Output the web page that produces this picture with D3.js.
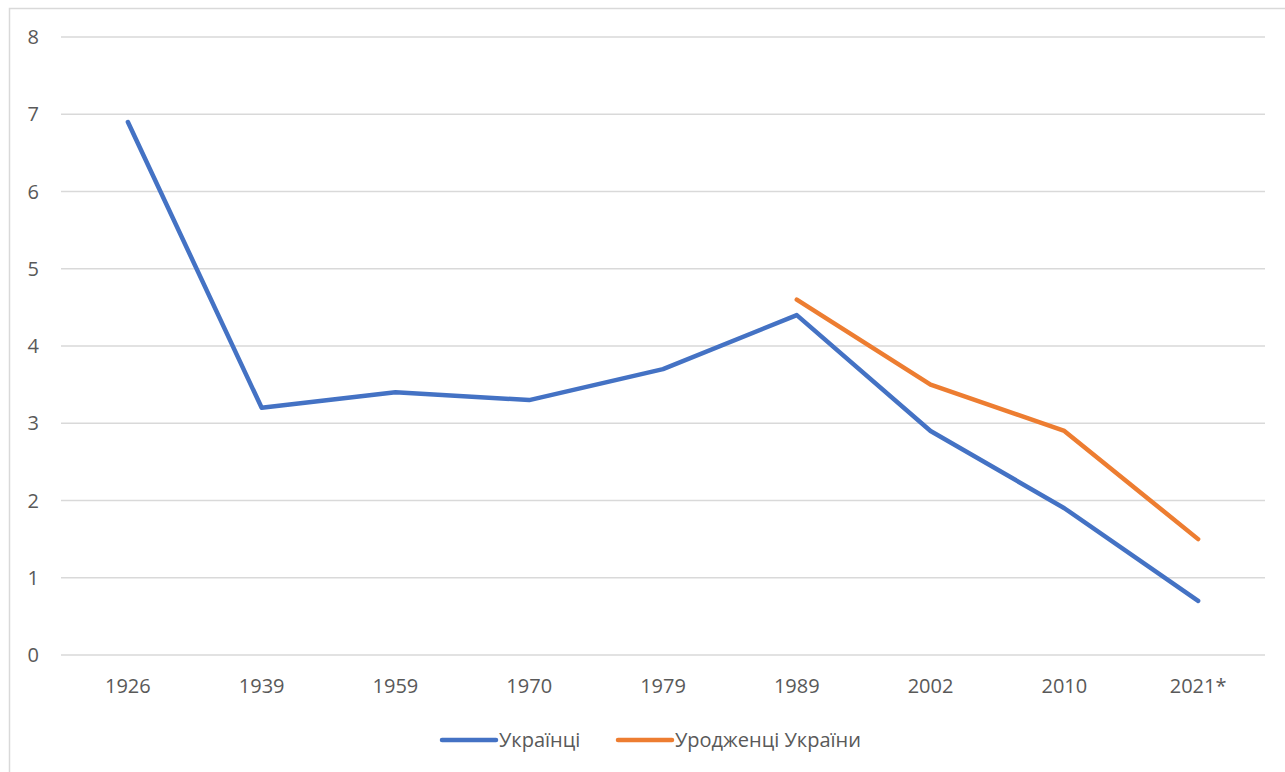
<!DOCTYPE html>
<html lang="uk">
<head>
<meta charset="utf-8">
<title>Українці</title>
<script src="https://cdn.jsdelivr.net/npm/d3@7"></script>
<style>
  body { margin: 0; background: #fff; }
  text { font-family: "Open Sans", "Noto Sans", sans-serif; fill: #595959; }
</style>
</head>
<body>
<div id="chart"></div>
<script>
var years = ["1926", "1939", "1959", "1970", "1979", "1989", "2002", "2010", "2021*"];
var ukrainians = [6.9, 3.2, 3.4, 3.3, 3.7, 4.4, 2.9, 1.9, 0.7];
var natives = [null, null, null, null, null, 4.6, 3.5, 2.9, 1.5];
var yTicks = [0, 1, 2, 3, 4, 5, 6, 7, 8];
var seriesNames = ["Українці", "Уродженці України"];
var colors = ["#4472C4", "#ED7D31"];

var W = 1285, H = 772;
var plot = {left: 61, right: 1265, top: 37, bottom: 655};

var svg = d3.select("#chart").append("svg")
    .attr("width", W).attr("height", H);

// outer frame (right/bottom run off the picture)
svg.append("rect")
    .attr("x", 9.5).attr("y", 8.5)
    .attr("width", 1300).attr("height", 800)
    .attr("fill", "none").attr("stroke", "#d9d9d9").attr("stroke-width", 1.5);

var x = d3.scaleBand().domain(years).range([plot.left, plot.right]);
var y = d3.scaleLinear().domain([0, 8]).range([plot.bottom, plot.top]);

// gridlines
svg.append("g").selectAll("line").data(yTicks).join("line")
    .attr("x1", plot.left).attr("x2", plot.right)
    .attr("y1", d => y(d)).attr("y2", d => y(d))
    .attr("stroke", "#d9d9d9").attr("stroke-width", 1.3);

// y labels
svg.append("g").selectAll("text").data(yTicks).join("text")
    .attr("x", 39).attr("y", d => y(d))
    .attr("dy", "0.36em").attr("text-anchor", "end")
    .attr("font-size", 20).text(d => d);

// x labels
svg.append("g").selectAll("text").data(years).join("text")
    .attr("x", d => x(d) + x.bandwidth() / 2).attr("y", 693)
    .attr("text-anchor", "middle").attr("font-size", 20).text(d => d);

var line = d3.line()
    .defined(d => d.v !== null)
    .x(d => x(d.year) + x.bandwidth() / 2)
    .y(d => y(d.v));

[ukrainians, natives].forEach(function(vals, i) {
  svg.append("path")
      .datum(years.map((yr, j) => ({year: yr, v: vals[j]})))
      .attr("d", line)
      .attr("fill", "none")
      .attr("stroke", colors[i])
      .attr("stroke-width", 4.5)
      .attr("stroke-linecap", "round")
      .attr("stroke-linejoin", "round");
});

// legend
var legendX = [442, 618];
var leg = svg.append("g").selectAll("g").data(seriesNames).join("g")
    .attr("transform", (d, i) => "translate(" + legendX[i] + ",740)");
leg.append("line")
    .attr("x1", 0).attr("x2", 54)
    .attr("stroke", (d, i) => colors[i]).attr("stroke-width", 4.5)
    .attr("stroke-linecap", "round");
leg.append("text")
    .attr("x", 57).attr("dy", "0.36em")
    .attr("font-size", 20).text(d => d);
</script>
</body>
</html>
